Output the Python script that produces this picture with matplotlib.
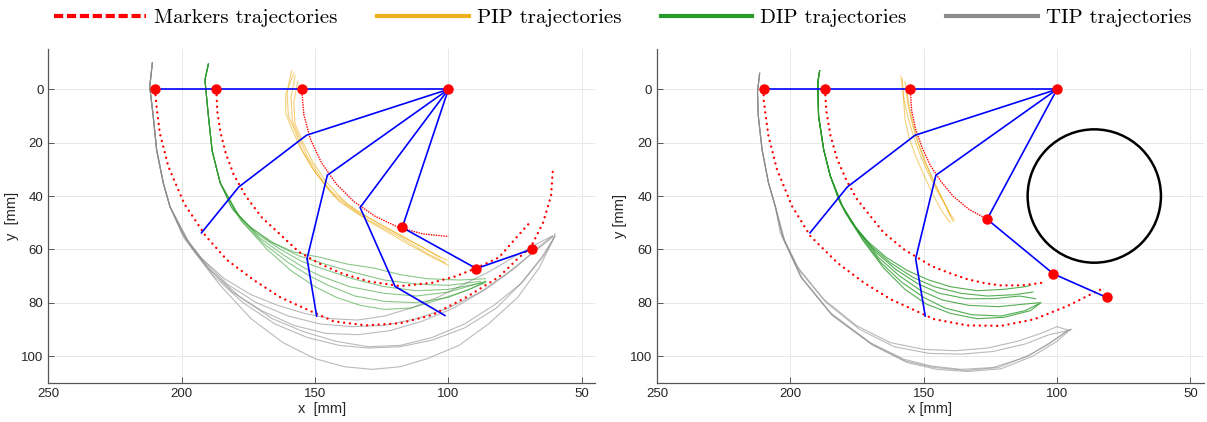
import matplotlib
matplotlib.use("Agg")
import matplotlib.pyplot as plt
from matplotlib.lines import Line2D
from matplotlib.patches import Circle

# ---------------- data (mm) ----------------
# finger skeleton configurations (blue), same in both panels except the last one
straight = [(210, 0), (187, 0), (155, 0), (100, 0)]
config_a = [(100, 0), (153.2, 17.2), (178.6, 36.6), (192.6, 53.8)]
config_b = [(100, 0), (145.4, 32.2), (153.0, 63.5), (149.4, 85.0)]
config_c_left = [(100, 0), (133.1, 44.3), (120.0, 73.9), (101.3, 84.8)]
config_d_left = [(100, 0), (117.3, 51.8), (89.5, 67.2), (68.8, 60.0)]
config_c_right = [(100, 0), (126.2, 48.7), (101.3, 69.2), (81.4, 78.0)]

# red joint markers
markers_left = [(210, 0), (187, 0), (155, 0), (100, 0), (117.3, 51.8), (89.5, 67.2), (68.8, 60.0)]
markers_right = [(210, 0), (187, 0), (155, 0), (100, 0), (126.2, 48.7), (101.3, 69.2), (81.4, 78.0)]

# obstacle (right panel)
obstacle_center = (86, 40)
obstacle_radius = 25

# marker trajectories (red dotted)
mk_pip_left = [(155, 0), (154.2, 9.6), (151.7, 18.8), (147.6, 27.5), (142.1, 35.4), (135.4, 42.1),
               (127.5, 47.6), (118.8, 51.7), (109.6, 54.2), (100, 55.2)]
mk_dip_left = [(187, 0), (186.7, 8), (185.5, 16), (183.5, 24), (180.5, 32), (176, 40), (170, 48),
               (163, 54.5), (156, 61), (148, 65.5), (140, 69), (130, 72), (118, 73.8), (106, 72.5),
               (97, 70), (89.5, 67), (81, 63), (74, 55), (69.5, 50)]
mk_tip_left = [(210, 0), (209.5, 6), (208.2, 16.5), (205, 29), (199, 43), (191, 55), (183, 64),
               (173, 71.5), (163, 78), (152, 83), (143, 87), (131, 88.5), (118, 87.7), (106, 84.6),
               (93, 77.8), (81, 70.3), (74, 63.5), (69, 59), (64.5, 50), (61.5, 40), (60.8, 30)]
mk_pip_right = [(155, 0), (154.5, 8), (153, 15), (150.5, 22), (147.5, 28.5), (143.5, 34.5),
                (139, 40), (133, 45), (126.2, 48.7)]
mk_dip_right = [(187, 0), (186.5, 8), (185, 17), (182.5, 26), (179, 34), (175, 41.2), (170, 47.5),
                (165, 53.7), (157.4, 60), (147, 66.3), (140, 69), (133.6, 71.2), (127, 72.7),
                (121, 73.5), (113, 73.5), (105.4, 72.5)]
mk_tip_right = [(210, 0), (210, 4), (208.2, 17.5), (205, 30), (199.4, 43.7), (192.5, 55), (182.4, 65),
                (172.4, 72.5), (162.4, 78.7), (150, 84.4), (146, 86.2), (133.6, 88.5), (121, 88.7),
                (108.5, 86.2), (96, 81.2), (86, 76.2), (83.5, 75)]

# measured PIP trajectories (orange)
pip_left = [
    [(158.8, -7), (160.5, 1), (160, 10), (157.5, 15.5), (155, 22.5), (150, 31), (143, 40), (131, 48.5),
     (118, 55.5), (108, 61.5), (101, 65)],
    [(157.5, -5), (159, 3), (158.5, 12), (156, 18), (153, 25), (148, 33), (141, 42), (129, 50),
     (116, 57.5), (106, 63), (100, 66)],
    [(156.5, -3), (158, 5), (157.5, 13), (154.5, 20), (151, 27), (146, 34.5), (138, 43), (126, 50.5),
     (114, 57), (104, 62.5), (100.5, 64)],
    [(158, -6), (161, 2), (161, 9), (159, 14), (156, 21), (151.5, 29), (145, 37.5), (134, 46),
     (121, 53), (110, 59), (103, 63)],
]
pip_right = [
    [(158.5, -5), (157.5, 3), (156, 10), (154, 17), (151.5, 24), (148.5, 31), (145, 38), (141.5, 44), (139, 49.5)],
    [(157, -3), (156, 5), (154.5, 12), (152.5, 19), (150, 26), (147, 33), (143.5, 40), (140.5, 46), (138.5, 49)],
    [(158, -4), (157.5, 4), (157, 11), (155.5, 18), (153, 25), (150, 32), (146.5, 39.5), (143, 46), (140, 50)],
    [(156.5, -1), (155.5, 6), (154, 13), (152, 20), (149, 28), (146, 35), (142.5, 42), (140, 47.5)],
]

# measured DIP trajectories (green)
dip_top_left = [(190, -9.5), (191.3, -3.5), (190, 10), (188.6, 23), (185.6, 35)]
dip_left = [
    [(181.5, 44), (175, 51), (167, 57), (158, 61), (148, 63), (138, 65.5), (128, 67), (118, 69.5),
     (108, 71), (96, 71.5), (86, 71)],
    [(181, 45), (174, 52), (165, 58), (156, 62.5), (148, 65), (136, 68.5), (124, 71.5), (112, 73),
     (100, 73.5), (88, 72)],
    [(180, 46), (172, 54), (163, 60), (155, 64.5), (148, 67), (136, 71), (124, 74), (112, 75.5),
     (100, 75), (87, 72.5)],
    [(179, 47), (171, 55.5), (162, 62), (154, 67), (148, 70), (137, 74), (124, 76.5), (112, 77.5),
     (100, 76), (86, 72)],
    [(178, 49), (169, 58), (160, 65), (152, 70), (145, 73.5), (135, 77.5), (124, 79.5), (112, 80),
     (100, 78), (86, 72.5)],
    [(177, 50), (168, 60), (159, 68), (150, 74), (142, 78), (133, 81), (124, 82.5), (114, 82),
     (104, 79), (92, 75), (86, 72)],
]
dip_top_right = [(189, -7), (189.7, -2.5), (189.4, 10), (187.5, 22.5), (185, 32.5)]
dip_right = [
    [(182, 41), (177, 50), (171, 57), (164, 63), (156, 68), (148, 71.5), (140, 74), (130, 75.5),
     (120, 75), (112, 74), (110, 73.5)],
    [(181.5, 42), (176, 51), (169.5, 59), (162.5, 65), (154, 70.5), (146, 74), (136, 76.5), (126, 77.5),
     (116, 77), (109, 76)],
    [(181, 43), (175, 52.5), (168, 61), (160.5, 67.5), (152, 73), (144, 76.5), (134, 78.5), (124, 78.5),
     (114, 77.5), (108, 78.5)],
    [(180.5, 44), (174, 54), (167, 63), (159, 70), (151, 75.5), (143, 79), (133, 81), (122, 81.5),
     (112, 80.5), (106.5, 80)],
    [(180, 45), (173, 56), (166, 65), (158, 72.5), (150, 78), (142, 82), (132, 84.5), (121, 85),
     (112, 83), (107, 80.5)],
    [(179.5, 46), (172.5, 57), (165, 67), (157, 75), (149, 80.5), (140, 84), (130, 86), (120, 85.5),
     (110, 83), (106, 80)],
]

# measured TIP trajectories (grey)
tip_top_left = [(211, -10), (212, -1), (210.7, 10), (209.4, 22.8), (206.9, 35.2), (204.4, 44)]
tip_left = [
    [(200, 54), (193, 63), (184, 71), (174, 77), (164, 81), (154, 84), (144, 86), (134, 86.5), (124, 85),
     (114, 82), (104, 78), (94, 73), (84, 68), (74, 62), (65, 57), (61, 55)],
    [(199, 55), (192, 64), (183, 73), (172, 80), (160, 85), (148, 88), (136, 89), (124, 88.5), (112, 86),
     (100, 82), (88, 76), (78, 69), (68, 61), (61, 55.5)],
    [(199, 56), (191, 66), (181, 76), (170, 83), (158, 88.5), (146, 91.5), (134, 92), (122, 90.5),
     (110, 87), (98, 82), (86, 75), (75, 67), (66, 59), (61, 55)],
    [(198, 57), (189, 68), (178, 78), (166, 86), (154, 91), (142, 94.5), (130, 96.5), (118, 96),
     (106, 93), (94, 88), (83, 81), (73, 73), (65, 63), (60, 55)],
    [(197, 58), (188, 70), (177, 80), (165, 88), (153, 93), (141, 96), (130, 97), (118, 96.5),
     (106, 94), (94, 89.5), (82, 82), (72, 72), (64, 62), (60, 55)],
    [(196, 60), (186, 73), (174, 86), (162, 95), (150, 101), (139, 104), (128.6, 105), (118, 104),
     (108, 101), (96, 96), (85, 88), (74, 78), (66, 67), (61, 57), (60, 54)],
]
tip_top_right = [(211.5, -6), (212.3, 1), (212, 10), (210.6, 22.5), (208.2, 35), (205.6, 44)]
tip_right = [
    [(203.8, 53.7), (197.5, 66.3), (187.5, 78.7), (175, 88.7), (162.4, 95), (150, 97.5), (138, 98),
     (126, 97), (115, 94.5), (106, 91.5), (100, 89), (95, 90.5)],
    [(203, 55), (196.5, 68), (186.5, 80), (174, 90), (161, 96.5), (148, 99), (136, 99.3), (124, 98.3),
     (112, 95.5), (103, 92), (96, 90.5)],
    [(202.5, 56), (196.2, 70), (185, 83.7), (170, 95), (157.4, 101.2), (147.4, 103.7), (136, 105),
     (124, 104.3), (112, 100.5), (103, 95.5), (97, 91), (94.5, 90)],
    [(202, 57), (195.5, 71), (184, 85), (169, 96), (156, 102.5), (145, 105), (133.6, 105.8),
     (121, 104.8), (109, 100), (100, 94.5), (96, 91)],
    [(202.5, 56.5), (196, 70.5), (184.5, 84.5), (169.5, 95.5), (157, 101.8), (146, 104.3),
     (134, 105.4), (122, 104.3), (110, 99.5), (101, 94), (95, 90)],
]

x_ticks = [250, 200, 150, 100, 50]
y_ticks = [0, 20, 40, 60, 80, 100]

RED = "#ff0000"
BLUE = "#0000ff"
ORANGE = "#edb120"
GREEN = "#2a9a2a"
GREY = "#8c8c8c"


def xs(pts):
    return [p[0] for p in pts]


def ys(pts):
    return [p[1] for p in pts]


def style_axes(ax, xlabel, ylabel):
    ax.set_xlim(250, 45)
    ax.set_ylim(110, -15)
    ax.set_xticks(x_ticks)
    ax.set_yticks(y_ticks)
    ax.grid(True, color="#e8e8e8", lw=0.7)
    ax.set_axisbelow(True)
    for side in ["top", "right"]:
        ax.spines[side].set_visible(False)
    for side in ["left", "bottom"]:
        ax.spines[side].set_color("#555555")
        ax.spines[side].set_linewidth(0.9)
    ax.tick_params(direction="in", length=4, width=0.7, color="#555555",
                   labelsize=9.5, labelcolor="#262626")
    for lab in ax.get_xticklabels() + ax.get_yticklabels():
        lab.set_family("Liberation Sans")
    ax.set_xlabel(xlabel, fontsize=10.5, family="Liberation Sans", color="#262626", labelpad=2)
    ax.set_ylabel(ylabel, fontsize=10.5, family="Liberation Sans", color="#262626", labelpad=2)


def draw_panel(ax, pip, dip_top, dip, tip_top, tip, arcs, configs, markers, green_alpha):
    for t in tip:
        pts = tip_top + t
        ax.plot(xs(pts), ys(pts), color=GREY, lw=0.8, alpha=0.6, zorder=2)
    for t in dip:
        pts = dip_top + t
        ax.plot(xs(pts), ys(pts), color=GREEN, lw=0.8, alpha=green_alpha, zorder=2)
    for t in pip:
        ax.plot(xs(t), ys(t), color=ORANGE, lw=0.8, alpha=0.6, zorder=2)
    for i, arc in enumerate(arcs):
        if i == 0:
            ax.plot(xs(arc), ys(arc), color=RED, lw=1.0, ls=(0, (1, 0.8)), zorder=3)
        else:
            ax.plot(xs(arc), ys(arc), color=RED, lw=1.7, ls=(0, (0.05, 2.4)),
                    dash_capstyle="round", zorder=3)
    ax.plot(xs(straight), ys(straight), color=BLUE, lw=1.2, zorder=4)
    for c in configs:
        ax.plot(xs(c), ys(c), color=BLUE, lw=1.2, zorder=4)
    ax.plot(xs(markers), ys(markers), "o", color=RED, ms=6.5, zorder=5)


fig = plt.figure(figsize=(12.07, 4.22), dpi=100)
ax1 = fig.add_axes([0.0401, 0.0931, 0.4529, 0.790])
ax2 = fig.add_axes([0.5443, 0.0931, 0.4529, 0.790])

draw_panel(ax1, pip_left, dip_top_left, dip_left, tip_top_left, tip_left,
           [mk_pip_left, mk_dip_left, mk_tip_left],
           [config_a, config_b, config_c_left, config_d_left], markers_left, 0.55)
draw_panel(ax2, pip_right, dip_top_right, dip_right, tip_top_right, tip_right,
           [mk_pip_right, mk_dip_right, mk_tip_right],
           [config_a, config_b, config_c_right], markers_right, 0.8)
ax2.add_patch(Circle(obstacle_center, obstacle_radius, fill=False, color="black", lw=1.8, zorder=4))

style_axes(ax1, "x  [mm]", "y  [mm]")
style_axes(ax2, "x [mm]", "y [mm]")

handles = [
    Line2D([], [], color=RED, lw=3, ls=(0, (2.2, 0.9))),
    Line2D([], [], color=ORANGE, lw=3),
    Line2D([], [], color=GREEN, lw=3),
    Line2D([], [], color=GREY, lw=3),
]
labels = ["Markers trajectories", "PIP trajectories", "DIP trajectories", "TIP trajectories"]
fig.legend(handles, labels, loc="center", bbox_to_anchor=(0.516, 0.957), ncol=4, frameon=False,
           prop={"family": "cmr10", "size": 15}, handlelength=4.4, handletextpad=0.38,
           columnspacing=1.9, borderaxespad=0)

fig.savefig("out.png", dpi=100)
